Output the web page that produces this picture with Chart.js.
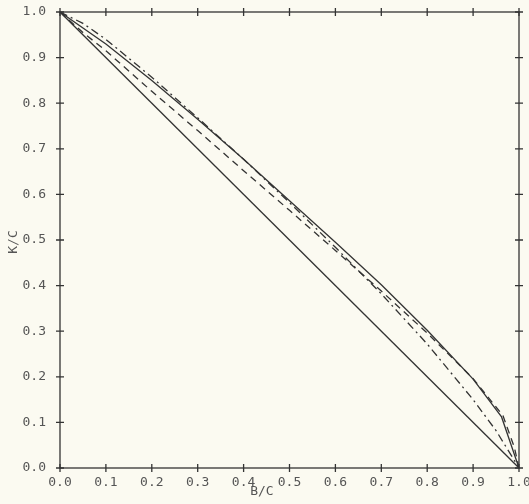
<!DOCTYPE html>
<html>
<head>
<meta charset="utf-8">
<script src="https://cdn.jsdelivr.net/npm/chart.js@4"></script>
<style>
  html, body { margin: 0; padding: 0; background: #fbfaf1; }
  #wrap { width: 529px; height: 504px; }
</style>
</head>
<body>
<div id="wrap"><canvas id="chart" width="529" height="504"></canvas></div>
<script>
const tickValues = [0, 0.1, 0.2, 0.3, 0.4, 0.5, 0.6, 0.7, 0.8, 0.9, 1.0];
const tickLabels = ['0.0', '0.1', '0.2', '0.3', '0.4', '0.5', '0.6', '0.7', '0.8', '0.9', '1.0'];

// straight reference line
const straightX = [0, 1];
const straightY = [1, 0];

// upper solid curve
const solidX = [0, 0.1, 0.2, 0.3, 0.4, 0.5, 0.6, 0.7, 0.8, 0.9, 0.962, 1];
const solidY = [1, 0.93, 0.85, 0.765, 0.677, 0.586, 0.495, 0.402, 0.302, 0.195, 0.112, 0];

// dash-dot curve
const dashDotX = [0, 0.05, 0.1, 0.2, 0.3, 0.4, 0.5, 0.6, 0.7, 0.8, 0.9, 0.95, 1];
const dashDotY = [1, 0.975, 0.94, 0.857, 0.768, 0.677, 0.582, 0.484, 0.382, 0.272, 0.15, 0.082, 0];

// dashed curve
const dashedX = [0, 0.05, 0.1, 0.2, 0.3, 0.4, 0.5, 0.6, 0.7, 0.8, 0.9, 0.965, 0.99, 1];
const dashedY = [1, 0.955, 0.915, 0.826, 0.74, 0.652, 0.565, 0.477, 0.388, 0.296, 0.196, 0.115, 0.045, 0];

const ink = '#333';
const textInk = '#555';

function pts(xs, ys) {
  return xs.map((x, i) => ({ x: x, y: ys[i] }));
}

function line(xs, ys, dash) {
  return {
    data: pts(xs, ys),
    showLine: true,
    borderColor: ink,
    borderWidth: 1.3,
    borderDash: dash,
    pointRadius: 0,
    tension: 0,
  };
}

// frame with ticks crossing every border, tick labels and axis titles
const framePlugin = {
  id: 'frame',
  afterDatasetsDraw(chart) {
    const { ctx, chartArea: a, scales: { x, y } } = chart;
    ctx.save();
    ctx.strokeStyle = ink;
    ctx.lineWidth = 1.3;
    ctx.strokeRect(a.left, a.top, a.right - a.left, a.bottom - a.top);
    ctx.beginPath();
    tickValues.forEach((v) => {
      const px = x.getPixelForValue(v);
      const py = y.getPixelForValue(v);
      ctx.moveTo(px, a.bottom - 4); ctx.lineTo(px, a.bottom + 4);
      ctx.moveTo(px, a.top - 4); ctx.lineTo(px, a.top + 4);
      ctx.moveTo(a.left - 4, py); ctx.lineTo(a.left + 4, py);
      ctx.moveTo(a.right - 4, py); ctx.lineTo(a.right + 4, py);
    });
    ctx.stroke();

    ctx.fillStyle = textInk;
    ctx.font = '13px "DejaVu Sans Mono"';
    ctx.textBaseline = 'middle';
    ctx.textAlign = 'center';
    tickValues.forEach((v, i) => {
      ctx.fillText(tickLabels[i], x.getPixelForValue(v), a.bottom + 15);
    });
    ctx.textAlign = 'right';
    tickValues.forEach((v, i) => {
      ctx.fillText(tickLabels[i], a.left - 14, y.getPixelForValue(v));
    });

    ctx.textAlign = 'center';
    ctx.fillText('B/C', x.getPixelForValue(0.44), 492);
    ctx.translate(14, y.getPixelForValue(0.5) + 2);
    ctx.rotate(-Math.PI / 2);
    ctx.fillText('K/C', 0, 0);
    ctx.restore();
  },
};

new Chart(document.getElementById('chart'), {
  type: 'scatter',
  data: {
    datasets: [
      line(straightX, straightY, []),
      line(solidX, solidY, []),
      line(dashDotX, dashDotY, [8, 4, 2, 4]),
      line(dashedX, dashedY, [7, 5]),
    ],
  },
  options: {
    responsive: false,
    animation: false,
    layout: { padding: { left: 0, right: 10, top: 12, bottom: 0 } },
    plugins: { legend: { display: false }, tooltip: { enabled: false } },
    scales: {
      x: {
        type: 'linear',
        min: 0,
        max: 1,
        afterFit: (s) => { s.height = 36; },
        grid: { display: false },
        border: { display: false },
        ticks: { display: false, stepSize: 0.1 },
      },
      y: {
        type: 'linear',
        min: 0,
        max: 1,
        afterFit: (s) => { s.width = 60; },
        grid: { display: false },
        border: { display: false },
        ticks: { display: false, stepSize: 0.1 },
      },
    },
  },
  plugins: [framePlugin],
});
</script>
</body>
</html>
